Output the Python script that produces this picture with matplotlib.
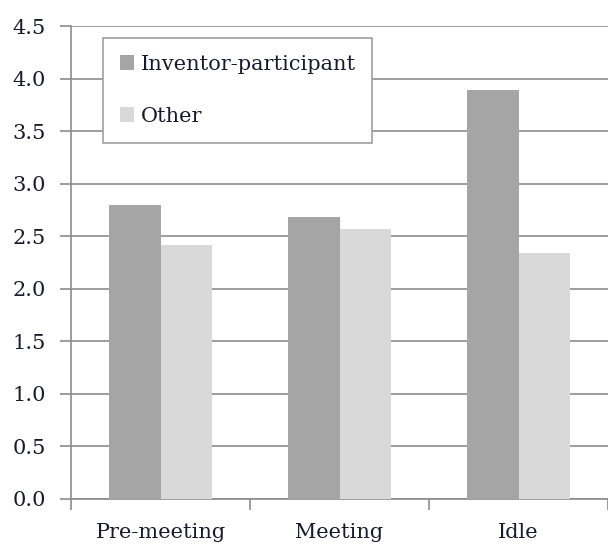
import matplotlib
matplotlib.use("Agg")
import matplotlib.pyplot as plt
import numpy as np

categories = ["Pre-meeting", "Meeting", "Idle"]
inventor = [2.80, 2.68, 3.89]
other = [2.42, 2.57, 2.34]
series_names = ["Inventor-participant", "Other"]

plt.rcParams['font.family'] = ['DejaVu Serif']

fig = plt.figure(figsize=(6.08, 5.46), dpi=100)
ax = fig.add_axes([71/608, 1 - 499/546, 1 - 71/608, (499 - 26)/546])

x = np.arange(len(categories))
w = 0.285
grid_c = '#8c8c8c'
txt_c = '#1a1a2e'
fs = 15

ax.bar(x - w/2, inventor, w, color='#a5a5a5', label=series_names[0], zorder=3)
ax.bar(x + w/2, other, w, color='#d9d9d9', label=series_names[1], zorder=3)

ax.set_xlim(-0.5, 2.5)
ax.set_ylim(0, 4.5)
yt = np.arange(0, 4.51, 0.5)
ax.set_yticks(yt)
ax.set_yticklabels([f"{v:.1f}" for v in yt])
ax.yaxis.grid(True, color=grid_c, linewidth=1.2, zorder=0)
ax.set_axisbelow(True)

ax.set_xticks(x)
ax.set_xticklabels(categories)
ax.set_xticks([-0.5, 0.5, 1.5, 2.5], minor=True)
ax.tick_params(axis='x', which='major', length=0, pad=17, labelsize=fs, colors=txt_c)
ax.tick_params(axis='x', which='minor', length=8, width=1.2, color=grid_c)
ax.tick_params(axis='y', length=8, width=1.2, color=grid_c, labelsize=fs, pad=10, labelcolor=txt_c)

for s in ['top', 'right']:
    ax.spines[s].set_visible(False)
for s in ['left', 'bottom']:
    ax.spines[s].set_color(grid_c)
    ax.spines[s].set_linewidth(1.2)

leg = ax.legend(loc='upper left', bbox_to_anchor=(32/537, 1 - 12/473), fontsize=fs,
                frameon=True, fancybox=False, edgecolor='#a0a0a0', framealpha=1,
                handlelength=0.7, handleheight=0.7, handletextpad=0.3,
                labelspacing=1.6, borderpad=0.8, borderaxespad=0)
leg.get_frame().set_linewidth(1.2)
for t in leg.get_texts():
    t.set_color(txt_c)

fig.savefig("out.png", dpi=100)
